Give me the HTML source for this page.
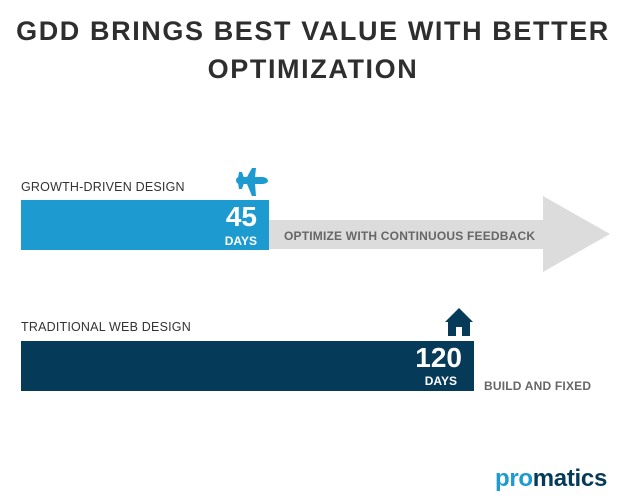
<!DOCTYPE html>
<html><head><style>
body{margin:0;width:626px;height:500px;background:#fff;position:relative;overflow:hidden;font-family:"Liberation Sans",sans-serif}
.t{position:absolute;left:0;width:626px;text-align:center;font-weight:bold;font-size:27px;color:#2e2e2e;letter-spacing:1.6px}
.l{position:absolute;font-size:12.5px;color:#333;letter-spacing:.2px}
.n{position:absolute;color:#fff;font-weight:bold;text-align:right}
</style></head><body>
<div class="t" style="top:16px">GDD BRINGS BEST VALUE WITH BETTER</div>
<div class="t" style="top:54px">OPTIMIZATION</div>
<div class="l" style="left:21px;top:180px">GROWTH-DRIVEN DESIGN</div>
<svg style="position:absolute;left:0;top:0" width="626" height="500">
<polygon points="269,220 543,220 543,196 610,234 543,272 543,249 269,249" fill="#dcdcdc"/>
<rect x="21" y="200" width="248" height="50" fill="#1d9bd0"/>
<rect x="21" y="341" width="453" height="50" fill="#063a59"/>
<g fill="#1d9bd0">
<path d="M236,180 Q236,177 240,177 L263,177 Q268,178 268,181 Q268,183 263,184 L240,184 Q236,184 236,180Z"/>
<polygon points="247,177 252,168 256,168 255,177"/>
<polygon points="247,184 255,184 256,196 252,196"/>
<polygon points="238,178 239,172 242,172 244,178"/>
<polygon points="238,183 244,183 242,189 239,189"/>
</g>
<g fill="#063a59">
<polygon points="459,308 473,322 445,322"/>
<rect x="448" y="320" width="22" height="16"/>
<rect x="456" y="327" width="6" height="9" fill="#fff"/>
</g>
</svg>
<div class="n" style="left:180px;width:77px;top:201px;font-size:28px">45</div>
<div class="n" style="left:180px;width:77px;top:234px;font-size:12px">DAYS</div>
<div class="l" style="left:284px;top:229px;color:#666;font-weight:bold;font-size:12px">OPTIMIZE WITH CONTINUOUS FEEDBACK</div>
<div class="l" style="left:21px;top:320px">TRADITIONAL WEB DESIGN</div>
<div class="n" style="left:380px;width:82px;top:342px;font-size:28px">120</div>
<div class="n" style="left:380px;width:77px;top:374px;font-size:12px">DAYS</div>
<div class="l" style="left:484px;top:379px;color:#666;font-weight:bold;font-size:12px">BUILD AND FIXED</div>
<div style="position:absolute;left:495px;top:465px;font-size:24px;font-weight:bold;letter-spacing:-.3px"><span style="color:#1d9bd0">pro</span><span style="color:#063a59">matics</span></div>
</body></html>
